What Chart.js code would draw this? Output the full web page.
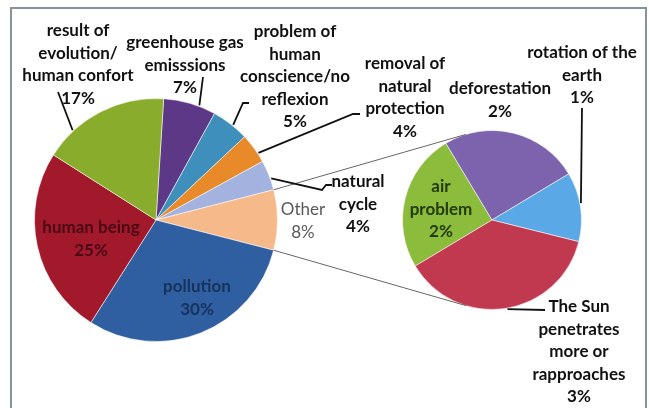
<!DOCTYPE html>
<html>
<head>
<meta charset="utf-8">
<script src="https://cdn.jsdelivr.net/npm/chart.js@4.4.1/dist/chart.umd.min.js"></script>
<style>
    html, body { margin: 0; padding: 0; background: #fff; overflow: hidden; }
    #wrap { position: relative; width: 649px; height: 408px; }
    #frame { position: absolute; left: 10px; top: 7px; width: 633px; height: 420px; border: 2px solid #87939a; }
    canvas { position: absolute; left: 0; top: 0; }
</style>
</head>
<body>
<div id="wrap">
    <div id="frame"></div>
    <canvas id="mainPie" width="649" height="408"></canvas>
    <canvas id="otherPie" width="649" height="408"></canvas>
</div>
<script>
// Data (values are percentages of all answers)
const mainCategories = ['greenhouse gas\nemisssions', 'problem of\nhuman\nconscience/no\nreflexion', 'removal of\nnatural\nprotection',
    'natural\ncycle', 'Other', 'pollution', 'human being', 'result of\nevolution/\nhuman confort'];
const mainValues = [7, 5, 4, 4, 8, 30, 25, 17];
const mainColors = ['#5c3887', '#3f8fbd', '#e8892a', '#a4b2e0', '#f5b98a', '#2f5fa0', '#a2192c', '#8aac2c'];

const otherCategories = ['air\nproblem', 'deforestation', 'rotation of the\nearth', 'The Sun\npenetrates\nmore or\nrapproaches'];
const otherValues = [2, 2, 1, 3];
const otherColors = ['#8cbc3c', '#7d63ae', '#5aa8e6', '#c0394f'];

// Label placement (centre x, first line y, text colour, leader: position inside slice + path)
const mainLabelLayout = [
    { x: 185, y: 43, color: '#111', leader: { frac: 0.68, path: [[203, 77]] } },
    { x: 295, y: 32, color: '#111', leader: { frac: 0.57, path: [[243, 103], [249, 103]] } },
    { x: 405, y: 64, color: '#111', leader: { frac: 0.69, path: [[353, 114], [360, 114]] } },
    { x: 358, y: 182, color: '#111', leader: { frac: 0.62, path: [[322, 190], [326, 185], [332, 185]] } },
    { x: 303, y: 210, color: '#595959', weight: 'normal' },
    { x: 197, y: 287, color: '#17325c' },
    { x: 91, y: 228, color: '#4a0a14' },
    { x: 78, y: 31, color: '#111', leader: { frac: 0.24, path: [[58, 92]] } }
];
const otherLabelLayout = [
    { x: 441, y: 187, color: '#233a08' },
    { x: 500, y: 89, color: '#111' },
    { x: 582, y: 53, color: '#111', leader: { frac: 0.45, path: [[582, 108]] } },
    { x: 579, y: 307, color: '#111', leader: { frac: 0.49, path: [[545, 310]] } }
];
const lineHeight = 22.5;

const pieOptions = (padding) => ({
    responsive: false,
    animation: false,
    layout: { padding: padding },
    plugins: { legend: { display: false }, tooltip: { enabled: false } }
});

const mainChart = new Chart(document.getElementById('mainPie'), {
    type: 'pie',
    data: {
        labels: mainCategories,
        datasets: [{ data: mainValues, backgroundColor: mainColors, borderColor: 'rgba(255,255,255,0.55)', borderWidth: 1 }]
    },
    options: Object.assign(pieOptions({ left: 34, right: 371, top: 98, bottom: 66 }), { rotation: 3.6 })
});

function pointOnArc(arc, frac, extra) {
    const a = arc.startAngle + (arc.endAngle - arc.startAngle) * frac;
    const r = arc.outerRadius + (extra || 0);
    return [arc.x + r * Math.cos(a), arc.y + r * Math.sin(a)];
}

function drawLabel(ctx, text, value, layout) {
    const lines = text.split('\n').concat([value + '%']);
    ctx.save();
    ctx.font = (layout.weight || 'bold') + ' 17px Lato, "Open Sans", sans-serif';
    ctx.fillStyle = layout.color;
    ctx.textAlign = 'center';
    ctx.textBaseline = 'middle';
    lines.forEach((line, i) => ctx.fillText(line, layout.x, layout.y + i * lineHeight));
    ctx.restore();
}

function drawLeader(ctx, arc, leader) {
    const start = pointOnArc(arc, leader.frac, 1);
    ctx.save();
    ctx.strokeStyle = '#111';
    ctx.lineWidth = 1.8;
    ctx.beginPath();
    ctx.moveTo(start[0], start[1]);
    leader.path.forEach(p => ctx.lineTo(p[0], p[1]));
    ctx.stroke();
    ctx.restore();
}

// Draws the pie-of-pie connectors and all the labels on the top canvas
const annotations = {
    id: 'annotations',
    afterDraw(chart) {
        const ctx = chart.ctx;
        const mainArcs = mainChart.getDatasetMeta(0).data;
        const otherArcs = chart.getDatasetMeta(0).data;
        const otherIndex = mainCategories.indexOf('Other');
        const o = mainArcs[otherIndex];
        const s = otherArcs[0];

        // connectors from the "Other" slice to the second pie
        const toRad = deg => (deg - 90) * Math.PI / 180;
        const ends = [[o.startAngle, toRad(-17)], [o.endAngle, toRad(197)]];
        ctx.save();
        ctx.strokeStyle = '#666';
        ctx.lineWidth = 1;
        ends.forEach(([a1, a2]) => {
            ctx.beginPath();
            ctx.moveTo(o.x + o.outerRadius * Math.cos(a1), o.y + o.outerRadius * Math.sin(a1));
            ctx.lineTo(s.x + s.outerRadius * Math.cos(a2), s.y + s.outerRadius * Math.sin(a2));
            ctx.stroke();
        });
        ctx.restore();

        mainLabelLayout.forEach((lay, i) => {
            if (lay.leader) drawLeader(ctx, mainArcs[i], lay.leader);
            drawLabel(ctx, mainCategories[i], mainValues[i], lay);
        });
        otherLabelLayout.forEach((lay, i) => {
            if (lay.leader) drawLeader(ctx, otherArcs[i], lay.leader);
            drawLabel(ctx, otherCategories[i], otherValues[i], lay);
        });
    }
};

new Chart(document.getElementById('otherPie'), {
    type: 'pie',
    data: {
        labels: otherCategories,
        datasets: [{ data: otherValues, backgroundColor: otherColors, borderColor: 'rgba(255,255,255,0.55)', borderWidth: 1 }]
    },
    options: Object.assign(pieOptions({ left: 402, right: 67, top: 130, bottom: 98 }), { rotation: -121 }),
    plugins: [annotations]
});
</script>
</body>
</html>
